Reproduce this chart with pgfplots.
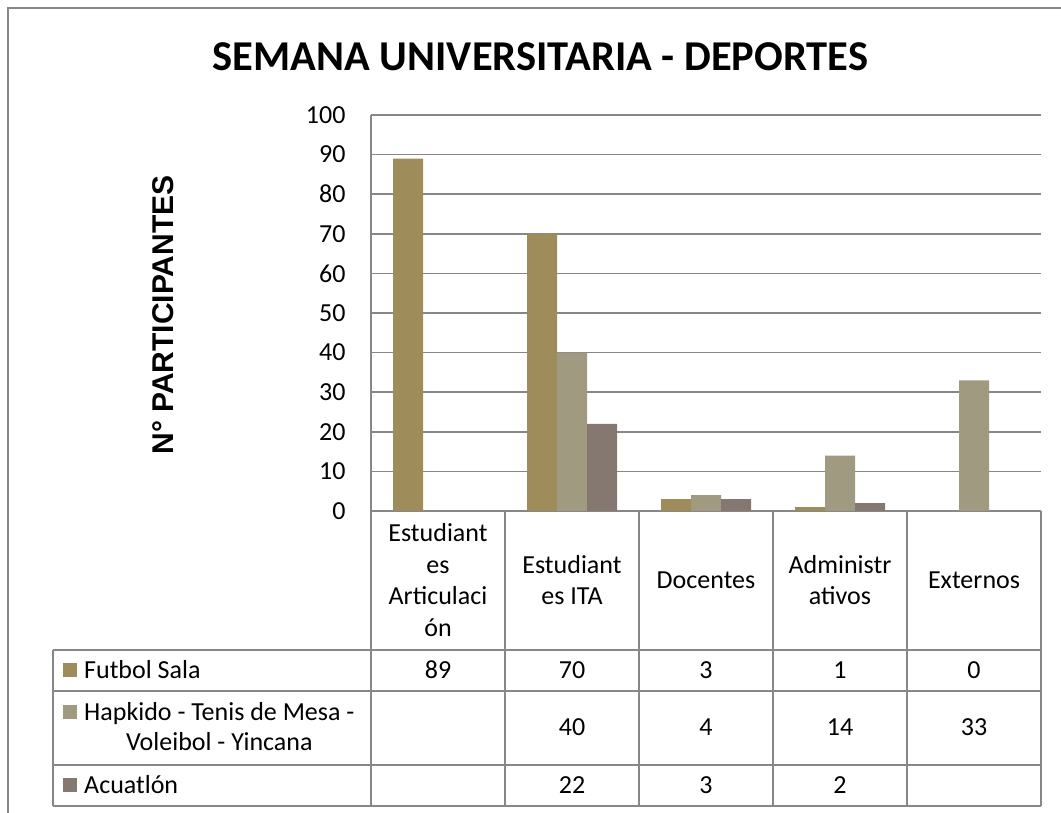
\documentclass[border=0pt]{standalone}
\usepackage{pgfplots}
\pgfplotsset{compat=1.18}
\usepackage{fontspec}
\setmainfont{Carlito}
\newfontfamily\arialf{Liberation Sans}
\definecolor{cF}{HTML}{9E8C5A}
\definecolor{cH}{HTML}{A09A80}
\definecolor{cA}{HTML}{857870}
\definecolor{gl}{HTML}{878787}
\begin{document}
\begin{tikzpicture}[x=1pt,y=1pt]
\useasboundingbox (0,0) rectangle (1061,812);
% outer border (top and left visible)
\draw[gl,line width=2pt] (8,-5) -- (8,804) -- (1070,804);
% title
\node[font=\fontsize{42.5}{50}\selectfont\bfseries] at (540.5,755) {SEMANA UNIVERSITARIA - DEPORTES};
% y label
\node[rotate=90,font=\arialf\fontsize{30}{34}\selectfont\bfseries] at (163,497) {N° PARTICIPANTES};
\begin{axis}[
  anchor=south west, at={(371pt,301pt)},
  scale only axis, width=670pt, height=396pt,
  ymin=0, ymax=100, xmin=-0.5, xmax=4.5,
  ytick={0,10,...,100}, xtick=\empty,
  ymajorgrids, grid style={gl,line width=1.5pt},
  axis x line*=bottom, axis y line*=left,
  axis line style={gl,line width=1.5pt,-},
  major tick length=0pt,
  tick label style={font=\fontsize{26}{30}\selectfont},
  yticklabel style={anchor=east,xshift=-22pt},
  /pgf/number format/assume math mode=true,
  ybar=0pt, bar width=30pt,
  clip=false,
]
\addplot[fill=cF,draw=none] coordinates {(0,89) (1,70) (2,3) (3,1) (4,0)};
\addplot[fill=cH,draw=none] coordinates {(1,40) (2,4) (3,14) (4,33)};
\addplot[fill=cA,draw=none] coordinates {(1,22) (2,3) (3,2)};
\end{axis}
% data table
\begin{scope}[gl,line width=1.5pt]
\foreach \x in {371,505,639,773,907,1041} \draw (\x,301) -- (\x,6);
\draw (53,162) -- (53,6);
\foreach \y in {162,121,47,6} \draw (53,\y) -- (1041,\y);
\end{scope}
\begin{scope}[font=\fontsize{26}{31.5}\selectfont]
\node[align=center] at (438,232) {Estudiant\\es\\Articulaci\\ón};
\node[align=center] at (572,232) {Estudiant\\es ITA};
\node[align=center] at (706,232) {Docentes};
\node[align=center] at (840,232) {Administr\\ativos};
\node[align=center] at (974,232) {Externos};
% rows
\fill[cF] (63,135) rectangle (77,149);
\node[anchor=west,inner sep=0pt] at (84,142) {Futbol Sala};
\fill[cH] (63,93) rectangle (77,107);
\node[anchor=west,inner sep=0pt,align=center,font=\fontsize{26}{30}\selectfont] at (84,85) {Hapkido - Tenis de Mesa -\\Voleibol - Yincana};
\fill[cA] (63,20) rectangle (77,34);
\node[anchor=west,inner sep=0pt] at (84,27) {Acuatlón};
\foreach \v [count=\i from 0] in {89,70,3,1,0} \node at (438+134*\i,142) {\v};
\foreach \v [count=\i from 1] in {40,4,14,33} \node at (438+134*\i,85) {\v};
\foreach \v [count=\i from 1] in {22,3,2} \node at (438+134*\i,27) {\v};
\end{scope}
\end{tikzpicture}
\end{document}
